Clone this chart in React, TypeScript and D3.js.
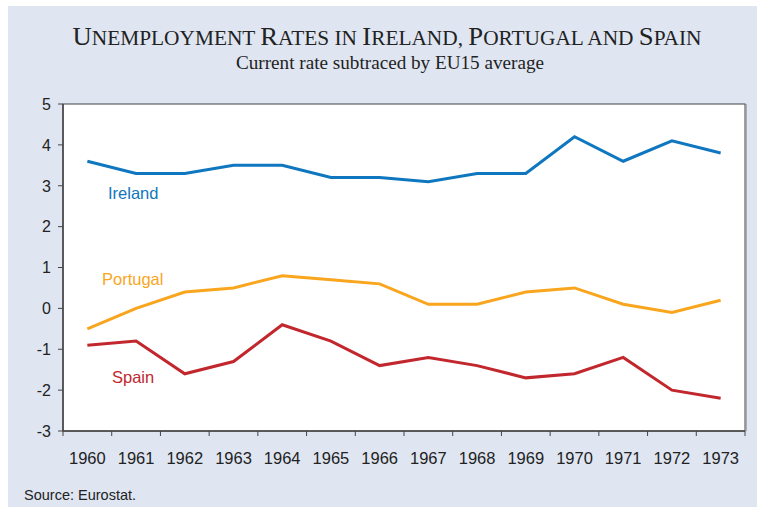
import * as d3 from "d3"

const years = ["1960", "1961", "1962", "1963", "1964", "1965", "1966", "1967", "1968", "1969", "1970", "1971", "1972", "1973"]
const ireland = [3.6, 3.3, 3.3, 3.5, 3.5, 3.2, 3.2, 3.1, 3.3, 3.3, 4.2, 3.6, 4.1, 3.8]
const portugal = [-0.5, 0.0, 0.4, 0.5, 0.8, 0.7, 0.6, 0.1, 0.1, 0.4, 0.5, 0.1, -0.1, 0.2]
const spain = [-0.9, -0.8, -1.6, -1.3, -0.4, -0.8, -1.4, -1.2, -1.4, -1.7, -1.6, -1.2, -2.0, -2.2]
const yTicks = [5, 4, 3, 2, 1, 0, -1, -2, -3]

const title = "Unemployment Rates in Ireland, Portugal and Spain"
const subtitle = "Current rate subtraced by EU15 average"

const series = [
  { name: "Ireland", values: ireland, colour: "#0f77bf", lx: 108, ly: 199 },
  { name: "Portugal", values: portugal, colour: "#f9a51d", lx: 102, ly: 285 },
  { name: "Spain", values: spain, colour: "#c1272d", lx: 112, ly: 383 },
]

const W = 757
const H = 507
const plot = { left: 63, right: 745, top: 104, bottom: 431 }

// small caps by hand: capitals big, the rest uppercased and smaller
const smallCapRuns = (s: string) => {
  const runs: { t: string; big: boolean }[] = []
  for (const ch of s) {
    const big = /[A-Z]/.test(ch)
    const last = runs[runs.length - 1]
    if (last && last.big === big) last.t += ch.toUpperCase()
    else runs.push({ t: ch.toUpperCase(), big })
  }
  return runs
}

export default function App() {
  const x = d3.scaleBand().domain(years).range([plot.left, plot.right]).padding(0)
  const y = d3.scaleLinear().domain([-3, 5]).range([plot.bottom, plot.top])
  const line = d3
    .line<number>()
    .x((_, i) => (x(years[i]) as number) + x.bandwidth() / 2)
    .y((d) => y(d))

  const sans = "'Liberation Sans', Arial, sans-serif"
  const serif = "'Liberation Serif', 'Times New Roman', serif"

  return (
    <svg width={W} height={H} style={{ position: "absolute", left: 0, top: 0 }}>
      <rect x={0} y={0} width={W} height={H} fill="#fff" />
      <rect x={8} y={6} width={W - 8} height={H - 6} fill="#dfe6f2" />

      <text x={72.5} y={44.5} fontFamily={serif} fill="#222" textLength={629} lengthAdjust="spacingAndGlyphs">
        {smallCapRuns(title).map((r, i) => (
          <tspan key={i} fontSize={r.big ? 25 : 20}>
            {r.t}
          </tspan>
        ))}
      </text>
      <text x={236} y={68.5} fontFamily={serif} fontSize={18} fill="#222" textLength={308} lengthAdjust="spacingAndGlyphs">
        {subtitle}
      </text>

      <rect x={plot.left} y={plot.top} width={plot.right - plot.left} height={plot.bottom - plot.top} fill="#fff" stroke="#444" strokeWidth={1} />
      <line x1={plot.right + 1} x2={plot.right + 1} y1={plot.top} y2={plot.bottom} stroke="#999" strokeWidth={1.5} />

      {/* y axis */}
      <line x1={plot.left} x2={plot.left} y1={plot.top} y2={plot.bottom} stroke="#444" strokeWidth={1.5} />
      {yTicks.map((t) => (
        <g key={t}>
          <line x1={plot.left - 5} x2={plot.left} y1={y(t)} y2={y(t)} stroke="#444" />
          <text x={51} y={y(t)} dy="0.36em" textAnchor="end" fontFamily={sans} fontSize={16} fill="#222">
            {t}
          </text>
        </g>
      ))}

      {/* x axis */}
      <line x1={plot.left} x2={plot.right} y1={plot.bottom} y2={plot.bottom} stroke="#444" strokeWidth={1.5} />
      {years.map((yr) => (
        <line key={"t" + yr} x1={x(yr)} x2={x(yr)} y1={plot.bottom} y2={plot.bottom + 5} stroke="#444" />
      ))}
      <line x1={plot.right} x2={plot.right} y1={plot.bottom} y2={plot.bottom + 5} stroke="#444" />
      {years.map((yr) => (
        <text key={yr} x={(x(yr) as number) + x.bandwidth() / 2} y={463.5} textAnchor="middle" fontFamily={sans} fontSize={16.5} fill="#222">
          {yr}
        </text>
      ))}

      {series.map((s) => (
        <g key={s.name}>
          <path d={line(s.values) ?? ""} fill="none" stroke={s.colour} strokeWidth={3} />
          <text x={s.lx} y={s.ly} fontFamily={sans} fontSize={16.5} fill={s.colour}>
            {s.name}
          </text>
        </g>
      ))}

      <text x={24} y={500} fontFamily={sans} fontSize={14.5} fill="#222">
        Source: Eurostat.
      </text>
    </svg>
  )
}
